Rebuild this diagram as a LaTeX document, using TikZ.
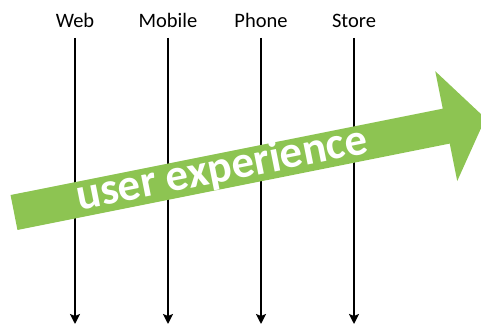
\documentclass[tikz,border=0pt]{standalone}
\usepackage{fontspec}
\setmainfont{Carlito}
\usetikzlibrary{arrows.meta}
\definecolor{uxgreen}{RGB}{141,196,82}
\begin{document}
\begin{tikzpicture}[x=1pt,y=1pt,
    channel/.style={font=\fontsize{20.5}{24}\selectfont, anchor=base, inner sep=0pt},
    flow/.style={line width=1.8pt, -{Stealth[length=10pt,width=10pt,inset=2pt]}},
    bigarrow/.style={fill=uxgreen, draw=none}]
  \useasboundingbox (0,0) rectangle (481,329);

  % channel labels and their downward timelines
  \foreach \name/\lab/\xx in {web/Web/75, mobile/Mobile/168, phone/Phone/261, store/Store/354} {
    \node[channel] (\name) at (\xx,301) {\lab};
    \coordinate (\name-top) at (\xx,291);
    \coordinate (\name-end) at (\xx,5);
    \draw[flow] (\name-top) -- (\name-end);
  }

  % the wide green arrow crossing all channels
  \begin{scope}
    \clip (0,0) rectangle (481,329);
    \begin{scope}[shift={(14,116.5)}, rotate=11.3]
      \fill[bigarrow] (0,-17.8) -- (440.8,-17.8) -- (440.8,-56) -- (480.8,0)
        -- (440.8,56) -- (440.8,17.8) -- (0,17.8) -- cycle;
      \node[transform shape, anchor=base, inner sep=0pt, text=white,
            font=\fontsize{45}{54}\selectfont\bfseries] (ux) at (212.6,-11) {user experience};
    \end{scope}
  \end{scope}
\end{tikzpicture}
\end{document}
